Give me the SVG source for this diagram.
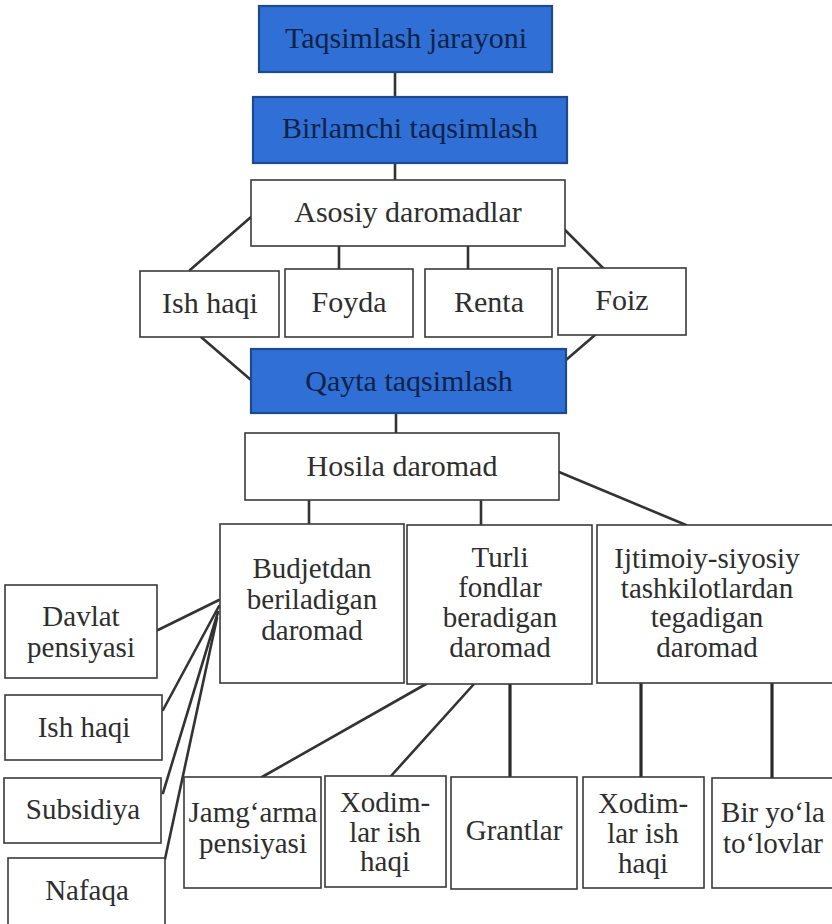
<svg xmlns="http://www.w3.org/2000/svg" width="832" height="924" viewBox="0 0 832 924">
<style>
.box{fill:#ffffff;stroke:#3a3a3a;stroke-width:1.6}
.blue{fill:#2f6fd6;stroke:#1d4a8e;stroke-width:2.2}
.t{font-family:"Liberation Serif","Times New Roman",serif;font-size:29px;fill:#2e2e2e;text-anchor:middle}
.tb{font-family:"Liberation Serif","Times New Roman",serif;font-size:30px;fill:#0f2347;text-anchor:middle}
.tw{font-family:"Liberation Serif","Times New Roman",serif;font-size:30px;fill:#2e2e2e;text-anchor:middle}
.c{stroke:#333333;stroke-width:2.6;fill:none;stroke-linecap:round}
.cv{stroke:#2a2a2a;stroke-width:3.2;fill:none}
</style>
<rect width="832" height="924" fill="#ffffff"/>
<g id="connectors">
<line class="c" x1="395" y1="72" x2="395" y2="97"/>
<line class="c" x1="395" y1="163" x2="395" y2="180"/>
<line class="c" x1="251" y1="217" x2="190" y2="270"/>
<line class="c" x1="339" y1="246" x2="339" y2="269"/>
<line class="c" x1="468" y1="246" x2="468" y2="269"/>
<line class="c" x1="565" y1="230" x2="603" y2="268"/>
<line class="c" x1="201" y1="337" x2="251" y2="380"/>
<line class="c" x1="595" y1="335" x2="566" y2="360"/>
<line class="c" x1="396" y1="413" x2="396" y2="433"/>
<line class="c" x1="309" y1="500" x2="309" y2="524"/>
<line class="c" x1="481" y1="500" x2="481" y2="525"/>
<line class="c" x1="559" y1="472" x2="686" y2="525"/>
<line class="c" x1="219" y1="600" x2="158" y2="630"/>
<line class="c" x1="219" y1="606" x2="163" y2="710"/>
<line class="c" x1="218" y1="612" x2="163" y2="793"/>
<line class="c" x1="217" y1="618" x2="165" y2="859"/>
<line class="c" x1="426" y1="684" x2="262" y2="777"/>
<line class="c" x1="474" y1="684" x2="391" y2="776"/>
<line class="cv" x1="510" y1="684" x2="510" y2="777"/>
<line class="cv" x1="641" y1="683" x2="641" y2="777"/>
<line class="cv" x1="772" y1="683" x2="772" y2="778"/>
</g>
<g id="n-taqsimlash-jarayoni">
<rect class="blue" x="259" y="6" width="293" height="66"/>
<text class="tb" x="406" y="48">Taqsimlash jarayoni</text>
</g>
<g id="n-birlamchi">
<rect class="blue" x="253" y="97" width="314" height="66"/>
<text class="tb" x="410" y="138">Birlamchi taqsimlash</text>
</g>
<g id="n-asosiy">
<rect class="box" x="251" y="180" width="314" height="66"/>
<text class="tw" x="408" y="222">Asosiy daromadlar</text>
</g>
<g id="n-ish-haqi-1">
<rect class="box" x="140" y="271" width="139" height="66"/>
<text class="tw" x="210" y="313">Ish haqi</text>
</g>
<g id="n-foyda">
<rect class="box" x="285" y="269" width="128" height="68"/>
<text class="tw" x="349" y="312">Foyda</text>
</g>
<g id="n-renta">
<rect class="box" x="425" y="269" width="127" height="68"/>
<text class="tw" x="489" y="312">Renta</text>
</g>
<g id="n-foiz">
<rect class="box" x="558" y="268" width="128" height="67"/>
<text class="tw" x="622" y="310">Foiz</text>
</g>
<g id="n-qayta">
<rect class="blue" x="251" y="349" width="315" height="64"/>
<text class="tb" x="409" y="391">Qayta taqsimlash</text>
</g>
<g id="n-hosila">
<rect class="box" x="245" y="433" width="314" height="67"/>
<text class="tw" x="402" y="476">Hosila daromad</text>
</g>
<g id="n-budjetdan">
<rect class="box" x="220" y="524" width="184" height="159"/>
<text class="t" x="312" y="578">Budjetdan</text>
<text class="t" x="312" y="609">beriladigan</text>
<text class="t" x="312" y="640">daromad</text>
</g>
<g id="n-turli">
<rect class="box" x="407" y="525" width="185" height="159"/>
<text class="t" x="500" y="567">Turli</text>
<text class="t" x="500" y="597">fondlar</text>
<text class="t" x="500" y="627">beradigan</text>
<text class="t" x="500" y="657">daromad</text>
</g>
<g id="n-ijtimoiy">
<rect class="box" x="597" y="525" width="245" height="158"/>
<text class="t" x="707" y="568">Ijtimoiy-siyosiy</text>
<text class="t" x="707" y="598">tashkilotlardan</text>
<text class="t" x="707" y="627">tegadigan</text>
<text class="t" x="707" y="657">daromad</text>
</g>
<g id="n-davlat-pensiyasi">
<rect class="box" x="5" y="585" width="152" height="93"/>
<text class="t" x="81" y="626">Davlat</text>
<text class="t" x="81" y="657">pensiyasi</text>
</g>
<g id="n-ish-haqi-2">
<rect class="box" x="5" y="695" width="157" height="65"/>
<text class="t" x="84" y="737">Ish haqi</text>
</g>
<g id="n-subsidiya">
<rect class="box" x="4" y="778" width="157" height="65"/>
<text class="t" x="83" y="819">Subsidiya</text>
</g>
<g id="n-nafaqa">
<rect class="box" x="8" y="858" width="157" height="80"/>
<text class="t" x="87" y="900">Nafaqa</text>
</g>
<g id="n-jamgarma">
<rect class="box" x="184" y="777" width="137" height="111"/>
<text class="t" x="253" y="822">Jamg‘arma</text>
<text class="t" x="253" y="853">pensiyasi</text>
</g>
<g id="n-xodimlar-1">
<rect class="box" x="325" y="776" width="121" height="111"/>
<text class="t" x="385" y="812">Xodim-</text>
<text class="t" x="385" y="842">lar ish</text>
<text class="t" x="385" y="871">haqi</text>
</g>
<g id="n-grantlar">
<rect class="box" x="451" y="777" width="126" height="112"/>
<text class="t" x="514" y="840">Grantlar</text>
</g>
<g id="n-xodimlar-2">
<rect class="box" x="583" y="777" width="121" height="111"/>
<text class="t" x="643" y="813">Xodim-</text>
<text class="t" x="643" y="843">lar ish</text>
<text class="t" x="643" y="873">haqi</text>
</g>
<g id="n-bir-yola">
<rect class="box" x="712" y="778" width="130" height="110"/>
<text class="t" x="773" y="822">Bir yo‘la</text>
<text class="t" x="773" y="853">to‘lovlar</text>
</g>
</svg>
